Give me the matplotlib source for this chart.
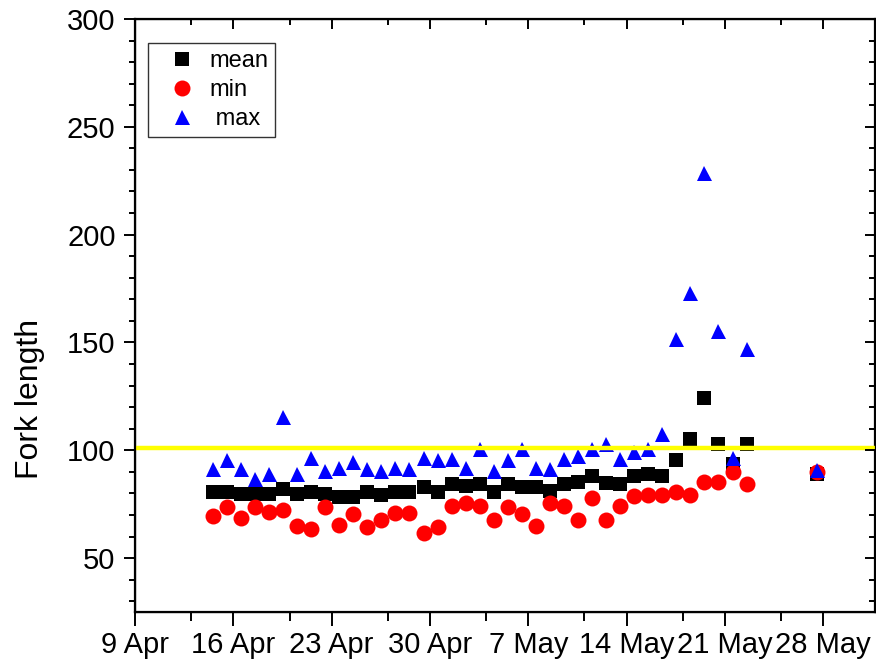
import matplotlib
matplotlib.use('Agg')
import matplotlib.pyplot as plt
import matplotlib.dates as mdates
import pandas as pd

plt.rcParams['font.family'] = ['Liberation Sans', 'DejaVu Sans']

# sampling dates (daily 14 Apr - 22 May, plus 27 May)
dates = list(pd.date_range('2015-04-14', '2015-05-22')) + [pd.Timestamp('2015-05-27')]

mean_len = [80.6, 80.6, 79.5, 79.5, 79.5, 81.9, 79.5, 80.6, 79.5, 78.1,
            78.1, 80.6, 79.4, 80.6, 80.6, 83.0, 80.6, 84.3, 83.2, 84.2,
            80.6, 84.2, 83.0, 83.0, 81.2, 84.2, 85.3, 88.1, 84.8, 84.2,
            88.1, 89.2, 88.1, 95.6, 105.0, 124.4, 102.8, 93.6, 102.8, 89.1]
min_len = [69.4, 73.6, 68.6, 73.6, 71.2, 72.3, 64.8, 63.6, 73.6, 65.2,
           70.6, 64.5, 67.5, 71.1, 71.1, 61.5, 64.4, 74.2, 75.6, 74.2,
           67.5, 73.7, 70.6, 64.8, 75.5, 74.2, 67.5, 77.7, 67.5, 74.2,
           78.8, 79.2, 79.2, 80.5, 79.2, 85.5, 85.5, 89.9, 84.2, 89.9]
max_len = [91.2, 95.5, 91.2, 86.7, 89.2, 115.4, 89.2, 96.6, 90.5, 91.7,
           94.4, 91.1, 90.6, 91.7, 91.1, 96.6, 95.5, 96.0, 91.8, 100.6,
           90.5, 95.5, 100.6, 91.9, 91.1, 96.1, 97.4, 100.6, 103.0, 96.0,
           99.1, 100.5, 107.4, 151.8, 173.0, 228.8, 155.5, 96.4, 146.8, 90.8]
threshold = 101

x = mdates.date2num([d + pd.Timedelta(hours=13) for d in dates])
start = mdates.date2num(pd.Timestamp('2015-04-09'))
major_x = [start + 7 * i for i in range(8)]
minor_x = [m + 4 for m in major_x[:-1]]
xlabels = [f"{mdates.num2date(m).day} {mdates.num2date(m):%b}" for m in major_x]

fig = plt.figure(figsize=(8.76, 6.66), dpi=100)
ax = fig.add_axes([0.1541, 0.0811, 0.8447, 0.8904])

ax.plot(x, mean_len, 's', color='black', ms=10, mew=0, label='mean')
ax.plot(x, min_len, 'o', color='red', ms=11.5, mew=0, label='min')
ax.plot(x, max_len, '^', color='blue', ms=10.8, mew=0, label=' max')
ax.axhline(threshold, color='yellow', lw=3.2, zorder=5)

ax.set_xlim(start, start + 52.68)
ax.set_ylim(25, 300)
ax.set_xticks(major_x)
ax.set_xticks(minor_x, minor=True)
ax.set_xticklabels(xlabels, fontsize=21)
ax.set_yticks(range(50, 301, 50))
ax.set_yticks([v for v in range(30, 300, 10) if v % 50], minor=True)
ax.tick_params(axis='y', labelsize=21)
ax.tick_params(axis='x', which='major', length=10, width=1.4, pad=4)
ax.tick_params(axis='x', which='minor', length=6.5, width=1.4)
ax.tick_params(axis='y', which='major', length=8, width=1.4, pad=6)
ax.tick_params(axis='y', which='minor', length=4, width=1.4)
ax.set_ylabel('Fork length', fontsize=23)
ax.yaxis.set_label_coords(-0.122, 0.36)
for s in ax.spines.values():
    s.set_linewidth(1.6)

# mirrored ticks pointing inward on top and right
axt = ax.twiny()
axt.set_xlim(ax.get_xlim())
axt.set_xticks(major_x)
axt.set_xticks(minor_x, minor=True)
axt.tick_params(axis='x', which='both', direction='in', labeltop=False, width=1.4)
axt.tick_params(axis='x', which='major', length=7)
axt.tick_params(axis='x', which='minor', length=4)
axr = ax.twinx()
axr.set_ylim(ax.get_ylim())
axr.set_yticks(range(50, 301, 50))
axr.set_yticks([v for v in range(30, 300, 10) if v % 50], minor=True)
axr.tick_params(axis='y', which='both', direction='in', labelright=False, width=1.4)
axr.tick_params(axis='y', which='major', length=7)
axr.tick_params(axis='y', which='minor', length=4)

leg = ax.legend(loc='upper left', bbox_to_anchor=(0.0176, 0.9595), borderaxespad=0,
                fontsize=17, frameon=True, fancybox=False, handlelength=2.3,
                handletextpad=0.0, labelspacing=0.3, borderpad=0.3)
leg.get_frame().set_edgecolor('black')
leg.get_frame().set_linewidth(1.0)

fig.savefig('out.png', dpi=100)
